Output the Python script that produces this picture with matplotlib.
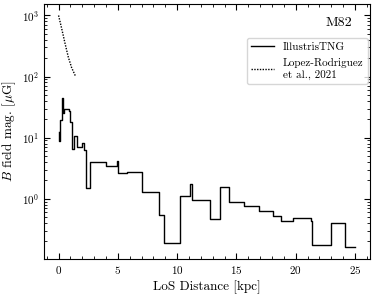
import matplotlib
matplotlib.use("Agg")
import matplotlib.pyplot as plt
import numpy as np

plt.rcParams['font.family'] = 'serif'
plt.rcParams['font.serif'] = ['cmr10']
plt.rcParams['mathtext.fontset'] = 'cm'
plt.rcParams['axes.formatter.use_mathtext'] = True
plt.rcParams['axes.unicode_minus'] = False

# IllustrisTNG step profile: bin start (kpc) and B (muG)
tng_x = [0.0, 0.05, 0.13, 0.25, 0.35, 0.45, 0.6, 0.85, 0.95, 1.1, 1.33, 1.58, 1.95, 2.17, 2.28,
         2.65, 3.99, 4.89, 5.0, 5.78, 7.04, 8.45, 8.87, 10.27, 11.11, 11.27, 12.73, 13.57,
         14.41, 15.67, 16.93, 18.05, 18.75, 19.73, 21.27, 21.41, 22.96, 24.13, 25.0]
tng_b = [12.6, 8.7, 19.5, 44.0, 25.0, 30.0, 30.0, 27.0, 18.0, 6.5, 10.8, 6.9, 8.1, 6.3, 1.5,
         4.0, 3.5, 4.2, 2.65, 2.75, 1.3, 0.54, 0.19, 1.1, 1.75, 0.94, 0.47, 1.57,
         0.88, 0.76, 0.63, 0.52, 0.43, 0.48, 0.43, 0.176, 0.40, 0.16, 0.16]

# Lopez-Rodriguez et al. 2021
lr_x = [0.0, 0.27, 0.55, 0.82, 1.1, 1.44]
lr_b = [1000.0, 600.0, 345.0, 208.0, 140.0, 100.0]

fig = plt.figure(figsize=(3.74, 2.98), dpi=100)
ax = fig.add_axes([0.117, 0.131, 0.872, 0.856])

ax.plot(tng_x, tng_b, drawstyle='steps-post', color='black', lw=1.0, label='IllustrisTNG')
ax.plot(lr_x, lr_b, ls=(0, (1, 1)), color='black', lw=1.0, label='Lopez-Rodriguez\net al., 2021')
ax.set_yscale('log')

ax.set_xlabel('LoS Distance [kpc]', fontsize=9.5, labelpad=3)
ax.set_ylabel(r'$B$ field mag. [$\mu$G]', fontsize=9.5)
ax.yaxis.set_label_coords(-0.078, 0.5)
ax.xaxis.set_major_locator(matplotlib.ticker.MultipleLocator(5))
ax.xaxis.set_minor_locator(matplotlib.ticker.MultipleLocator(1))
ax.tick_params(which='both', direction='in', top=True, right=True, labelsize=8)
ax.tick_params(which='major', length=4, width=0.8)
ax.tick_params(which='minor', length=2, width=0.6)

ax.text(0.945, 0.925, 'M82', transform=ax.transAxes, ha='right', va='center', fontsize=10)
leg = ax.legend(loc='upper right', bbox_to_anchor=(1.0, 0.875), fontsize=8, handlelength=2.0,
                frameon=True, borderaxespad=0.2)

fig.savefig('out.png', dpi=100)
